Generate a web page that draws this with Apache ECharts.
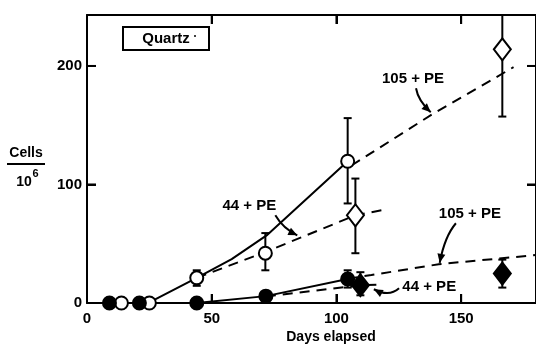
<!DOCTYPE html>
<html><head><meta charset="utf-8">
<script src="https://cdn.jsdelivr.net/npm/echarts@6/dist/echarts.min.js"></script>
<style>html,body{margin:0;padding:0;background:#fff}#c{width:536px;height:345px}</style>
</head><body><div id="c"></div>
<script>
// ---- data (days, cells x 10^6) ----
const xTickValues = [0, 50, 100, 150];
const yTickValues = [0, 100, 200];
const openCircles = [[13.8, 0], [25, 0], [44, 21.2], [71.5, 42], [104.5, 119.6]];
const filledCircles = [[9, 0], [21, 0], [44, 0], [71.7, 5.8], [104.5, 20.2]];
const openDiamonds = [[107.6, 74], [166.5, 214]];
const filledDiamonds = [[109.6, 15], [166.5, 24.8]];
// error bars: [x, low, high]
const openCircleErr = [[44, 14.5, 27.6], [71.5, 27.6, 59], [104.5, 84, 156]];
const filledCircleErr = [[104.5, 13, 27.6]];
const openDiamondErr = [[107.6, 42, 105], [166.5, 157.3, 270]];
const filledDiamondErr = [[109.6, 6.5, 26], [166.5, 13, 36.6]];
// fitted curves
const solidOpen = [[25, 0.5], [44, 21.2], [58, 37], [72, 57], [104.5, 119.6]];
const dashed105Open = [[106, 116], [139, 160], [171, 199]];
const dashed44Open = [[44, 21.2], [71.5, 43], [107.6, 74], [120, 79]];
const solidFilled = [[44, 0], [71.7, 5.8], [104.5, 20.2]];
const dashed44Filled = [[71.7, 5.5], [109.6, 15], [116, 15.5]];
const dashed105Filled = [[104.5, 20.5], [114, 23.6], [141, 32.7], [180, 40.5]];
// annotations: text, label pos, arrow start, control, tip (data coords)
const annotations = [
  {text: '105 + PE', label: [130.7, 188.8], from: [131.9, 181.2], ctrl: [132.7, 171], to: [137.8, 160.9]},
  {text: '44 + PE', label: [65.1, 81.6], from: [75.5, 74], ctrl: [78.6, 62.9], to: [84.3, 57.1]},
  {text: '105 + PE', label: [153.5, 74.9], from: [147.9, 67.3], ctrl: [143.4, 56.3], to: [141.4, 33.9]},
  {text: '44 + PE', label: [137.2, 13.2], from: [125.1, 12.4], ctrl: [121.1, 4.8], to: [115, 11.6]}
];

const FONT = "'Liberation Sans', Arial, Helvetica, sans-serif";
const X_MAX = 180, Y_MAX = 243;
const chart = echarts.init(document.getElementById('c'), null, {renderer: 'canvas'});

function lineSeries(data, dashed) {
  return {type: 'line', data: data, showSymbol: false, symbol: 'none', smooth: false, z: 2,
    lineStyle: {color: '#000', width: 2, type: dashed ? [10, 7] : 'solid'}, silent: true};
}
function errSeries(data) {
  return {type: 'custom', data: data, z: 3, clip: true, silent: true,
    renderItem: function (params, api) {
      const x = api.value(0), lo = api.value(1), hi = api.value(2);
      const p1 = api.coord([x, lo]), p2 = api.coord([x, hi]);
      const cap = 4;
      const st = {stroke: '#000', lineWidth: 2};
      return {type: 'group', children: [
        {type: 'line', shape: {x1: p1[0], y1: p1[1], x2: p2[0], y2: p2[1]}, style: st},
        {type: 'line', shape: {x1: p1[0] - cap, y1: p1[1], x2: p1[0] + cap, y2: p1[1]}, style: st},
        {type: 'line', shape: {x1: p2[0] - cap, y1: p2[1], x2: p2[0] + cap, y2: p2[1]}, style: st}
      ]};
    }};
}
function scatter(data, symbol, size, filled) {
  return {type: 'scatter', data: data, symbol: symbol, symbolSize: size, z: 5, silent: true,
    itemStyle: {color: filled ? '#000' : '#fff', borderColor: '#000', borderWidth: 2, opacity: 1}};
}
function axis(extra) {
  return Object.assign({
    type: 'value',
    axisLine: {show: true, onZero: false, lineStyle: {color: '#000', width: 2}},
    axisTick: {show: true, inside: true, length: 9, lineStyle: {color: '#000', width: 2}},
    splitLine: {show: false}
  }, extra);
}

const option = {
  animation: false,
  backgroundColor: '#fff',
  grid: {left: 87, right: -3, top: 15, bottom: 42},
  xAxis: [
    axis({min: 0, max: X_MAX, interval: 50, position: 'bottom',
      axisLabel: {show: true, margin: 8, color: '#000', fontFamily: FONT, fontWeight: 'bold', fontSize: 15,
        showMaxLabel: false, formatter: v => xTickValues.includes(v) ? String(v) : ''}}),
    axis({min: 0, max: X_MAX, interval: 50, position: 'top', axisLabel: {show: false}})
  ],
  yAxis: [
    axis({min: 0, max: Y_MAX, interval: 100, position: 'left',
      axisLabel: {show: true, margin: 5, color: '#000', fontFamily: FONT, fontWeight: 'bold', fontSize: 15,
        showMaxLabel: false, formatter: v => yTickValues.includes(v) ? String(v) : ''}}),
    axis({min: 0, max: Y_MAX, interval: 100, position: 'right', axisLabel: {show: false}})
  ],
  series: [
    lineSeries(solidOpen, false),
    lineSeries(dashed105Open, true),
    lineSeries(dashed44Open, true),
    lineSeries(solidFilled, false),
    lineSeries(dashed44Filled, true),
    lineSeries(dashed105Filled, true),
    errSeries(openCircleErr),
    errSeries(filledCircleErr),
    errSeries(openDiamondErr),
    errSeries(filledDiamondErr),
    scatter(openCircles, 'circle', 13, false),
    scatter(filledCircles, 'circle', 13, true),
    scatter(openDiamonds, 'diamond', [17, 22], false),
    scatter(filledDiamonds, 'diamond', [17, 22], true)
  ]
};
chart.setOption(option);

const P = d => chart.convertToPixel({gridIndex: 0}, d);
const graphics = [];
const tickStyle = {stroke: '#000', lineWidth: 2};
// reinforce inward ticks on all four sides
xTickValues.filter(v => v > 0).forEach(v => {
  const b = P([v, 0]), t = P([v, Y_MAX]);
  graphics.push({type: 'line', z: 9, silent: true, shape: {x1: b[0], y1: b[1], x2: b[0], y2: b[1] - 9}, style: tickStyle});
  graphics.push({type: 'line', z: 9, silent: true, shape: {x1: t[0], y1: t[1], x2: t[0], y2: t[1] + 9}, style: tickStyle});
});
yTickValues.filter(v => v > 0).forEach(v => {
  const l = P([0, v]), r = P([X_MAX, v]);
  graphics.push({type: 'line', z: 9, silent: true, shape: {x1: l[0], y1: l[1], x2: l[0] + 9, y2: l[1]}, style: tickStyle});
  graphics.push({type: 'line', z: 9, silent: true, shape: {x1: r[0], y1: r[1], x2: r[0] - 9, y2: r[1]}, style: tickStyle});
});
annotations.forEach(a => {
  const l = P(a.label), f = P(a.from), c = P(a.ctrl), t = P(a.to);
  graphics.push({type: 'text', x: l[0], y: l[1], z: 10, silent: true,
    style: {text: a.text, fill: '#000', font: 'bold 15px ' + FONT, textAlign: 'center', textVerticalAlign: 'middle'}});
  graphics.push({type: 'bezierCurve', z: 10, silent: true,
    shape: {x1: f[0], y1: f[1], cpx1: c[0], cpy1: c[1], x2: t[0], y2: t[1]},
    style: {stroke: '#000', lineWidth: 2, fill: null}});
  let dx = t[0] - c[0], dy = t[1] - c[1];
  const len = Math.hypot(dx, dy) || 1; dx /= len; dy /= len;
  const L = 9, W = 4;
  const bx = t[0] - dx * L, by = t[1] - dy * L;
  graphics.push({type: 'polygon', z: 10, silent: true,
    shape: {points: [[t[0], t[1]], [bx - dy * W, by + dx * W], [bx + dy * W, by - dx * W]]},
    style: {fill: '#000'}});
});
// Quartz box
graphics.push({type: 'rect', z: 10, silent: true, shape: {x: 123, y: 27, width: 86, height: 23},
  style: {fill: '#fff', stroke: '#000', lineWidth: 2}});
graphics.push({type: 'text', z: 11, silent: true, x: 166, y: 39,
  style: {text: 'Quartz', fill: '#000', font: 'bold 15px ' + FONT, textAlign: 'center', textVerticalAlign: 'middle'}});
graphics.push({type: 'circle', z: 11, silent: true, shape: {cx: 195, cy: 36, r: 1}, style: {fill: '#000'}});
// y axis name
graphics.push({type: 'text', z: 10, silent: true, x: 26, y: 153,
  style: {text: 'Cells', fill: '#000', font: 'bold 14px ' + FONT, textAlign: 'center', textVerticalAlign: 'middle'}});
graphics.push({type: 'line', z: 10, silent: true, shape: {x1: 7, y1: 164, x2: 45, y2: 164},
  style: {stroke: '#000', lineWidth: 2}});
graphics.push({type: 'text', z: 10, silent: true, x: 24, y: 182,
  style: {text: '10', fill: '#000', font: 'bold 14px ' + FONT, textAlign: 'center', textVerticalAlign: 'middle'}});
graphics.push({type: 'text', z: 10, silent: true, x: 35.5, y: 174,
  style: {text: '6', fill: '#000', font: 'bold 11px ' + FONT, textAlign: 'center', textVerticalAlign: 'middle'}});
// x axis name
graphics.push({type: 'text', z: 10, silent: true, x: 331, y: 337,
  style: {text: 'Days elapsed', fill: '#000', font: 'bold 14px ' + FONT, textAlign: 'center', textVerticalAlign: 'middle'}});
chart.setOption({graphic: graphics});
</script>
</body></html>
